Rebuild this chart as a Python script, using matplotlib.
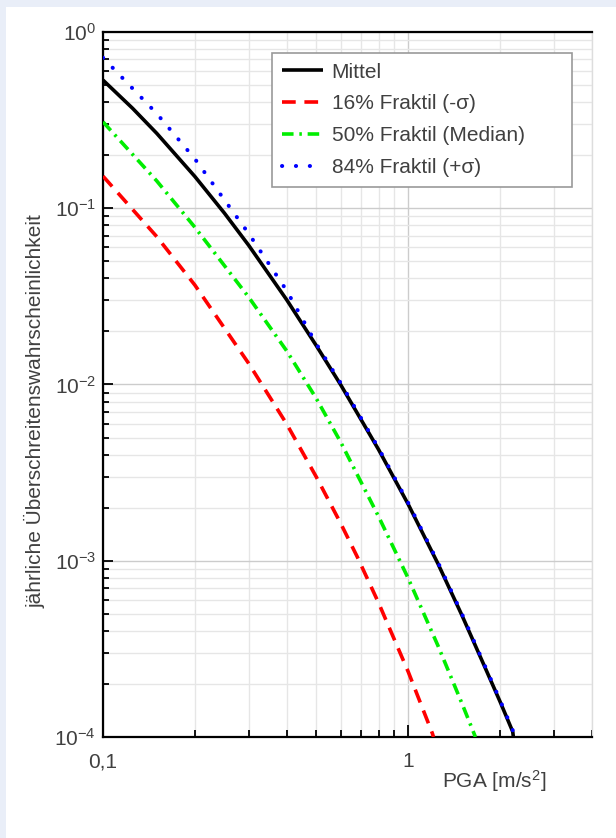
import numpy as np
import matplotlib
matplotlib.use("Agg")
import matplotlib.pyplot as plt
from matplotlib.patches import Rectangle
from matplotlib.ticker import FixedLocator, FixedFormatter, NullFormatter, LogLocator

plt.rcParams['font.family'] = ['Liberation Sans', 'DejaVu Sans']
plt.rcParams['axes.unicode_minus'] = False
plt.rcParams['mathtext.fontset'] = 'custom'
plt.rcParams['mathtext.rm'] = 'Liberation Sans'
plt.rcParams['mathtext.it'] = 'Liberation Sans'

# ---- data (y as log10 of probability) ----
x_mittel = [0.1, 0.125, 0.15, 0.2, 0.25, 0.3, 0.4, 0.5, 0.6, 0.8, 1.0, 1.25, 1.5, 1.8, 2.0, 2.2, 2.21]
logy_mittel = [-0.273, -0.433, -0.575, -0.82, -1.028, -1.21, -1.52, -1.78, -2.0, -2.37,
               -2.68, -3.015, -3.31, -3.62, -3.80, -3.97, -4.0]

x_16 = [0.1, 0.15, 0.2, 0.3, 0.4, 0.5, 0.6, 0.68, 0.8, 1.0, 1.2, 1.21]
logy_16 = [-0.818, -1.161, -1.436, -1.88, -2.225, -2.525, -2.786, -2.976, -3.24, -3.63, -3.98, -4.0]

x_50 = [0.1, 0.15, 0.2, 0.3, 0.4, 0.5, 0.6, 0.8, 1.0, 1.25, 1.5, 1.64, 1.66]
logy_50 = [-0.51, -0.845, -1.108, -1.504, -1.81, -2.08, -2.325, -2.75, -3.10, -3.48, -3.81, -3.977, -4.0]

x_84 = [0.1, 0.15, 0.2, 0.3, 0.4, 0.5, 0.6, 0.8, 1.0, 1.25, 1.5, 1.8, 2.0, 2.2, 2.215]
logy_84 = [-0.146, -0.463, -0.72, -1.143, -1.468, -1.77, -1.99, -2.362, -2.672, -3.007,
           -3.302, -3.612, -3.792, -3.962, -4.0]

labels = ["Mittel", "16% Fraktil (-σ)", "50% Fraktil (Median)", "84% Fraktil (+σ)"]
xtick_vals = [0.1, 1]
xtick_labels = ["0,1", "1"]
ytick_vals = [1e-4, 1e-3, 1e-2, 1e-1, 1]
ytick_labels = ["10$^{-4}$", "10$^{-3}$", "10$^{-2}$", "10$^{-1}$", "10$^{0}$"]

text_col = "#404040"

fig = plt.figure(figsize=(6.16, 8.38), dpi=100)
fig.patch.set_facecolor("#e9eef8")
fig.patches.append(Rectangle((6/616, 0), 1, 1 - 7/838, transform=fig.transFigure,
                             facecolor="white", edgecolor="none", zorder=-10))

ax = fig.add_axes([103/616, 1 - 737/838, 489/616, 705/838])
ax.set_xscale('log')
ax.set_yscale('log')
ax.set_xlim(0.1, 4)
ax.set_ylim(1e-4, 1)

ax.plot(x_mittel, 10**np.array(logy_mittel), color='black', lw=2.6, label=labels[0],
        solid_capstyle='butt', zorder=3)
ax.plot(x_16, 10**np.array(logy_16), color='#ff0000', lw=2.6, ls=(0, (3.8, 2.4)),
        label=labels[1], zorder=3)
ax.plot(x_50, 10**np.array(logy_50), color='#00ee00', lw=2.6, ls=(0, (3.2, 1.6, 0.7, 1.6)),
        label=labels[2], zorder=3)
ax.plot(x_84, 10**np.array(logy_84), color='#0000ff', lw=2.9, ls=(0, (0.05, 3.4)),
        dash_capstyle='round', label=labels[3], zorder=4)

# grid
ax.grid(True, which='major', color='#cccccc', lw=1.0)
ax.grid(True, which='minor', color='#e6e6e6', lw=1.0)
ax.set_axisbelow(True)

# ticks
ax.xaxis.set_major_locator(FixedLocator(xtick_vals))
ax.xaxis.set_major_formatter(FixedFormatter(xtick_labels))
ax.xaxis.set_minor_locator(LogLocator(base=10, subs=np.arange(2, 10)))
ax.xaxis.set_minor_formatter(NullFormatter())
ax.yaxis.set_major_locator(FixedLocator(ytick_vals))
ax.yaxis.set_major_formatter(FixedFormatter(ytick_labels))
ax.yaxis.set_minor_locator(LogLocator(base=10, subs=np.arange(2, 10), numticks=20))
ax.yaxis.set_minor_formatter(NullFormatter())

ax.tick_params(which='both', direction='in', top=False, right=False, colors='black',
               labelcolor=text_col, labelsize=15, width=1.3)
ax.tick_params(axis='x', which='major', length=9, pad=11)
ax.tick_params(axis='x', which='minor', length=5)
ax.tick_params(axis='y', which='major', length=7, pad=5)
ax.tick_params(axis='y', which='minor', length=4.5)

for s in ['left', 'bottom', 'top']:
    ax.spines[s].set_linewidth(1.6)
    ax.spines[s].set_color('black')
ax.spines['right'].set_color('#dddddd')
ax.spines['right'].set_linewidth(1.0)

ax.set_xlabel("PGA [m/s$^2$]", fontsize=15, color=text_col)
ax.xaxis.label.set_va('center')
ax.xaxis.set_label_coords(0.80, -0.063)
ax.set_ylabel("jährliche Überschreitenswahrscheinlichkeit", fontsize=15, color=text_col)
ax.yaxis.label.set_va('center')
ax.yaxis.set_label_coords(-0.139, 0.462)

leg = ax.legend(loc='upper left', bbox_to_anchor=(0.346, 0.786, 0.613, 0.184),
                mode='expand', fontsize=15,
                frameon=True, fancybox=False, edgecolor='#999999', framealpha=1,
                handlelength=2.0, handletextpad=0.4, labelspacing=0.62,
                borderpad=0.45, borderaxespad=0)
leg.get_frame().set_linewidth(1.2)
for t in leg.get_texts():
    t.set_color(text_col)

fig.savefig("out.png", dpi=100, facecolor=fig.get_facecolor())
